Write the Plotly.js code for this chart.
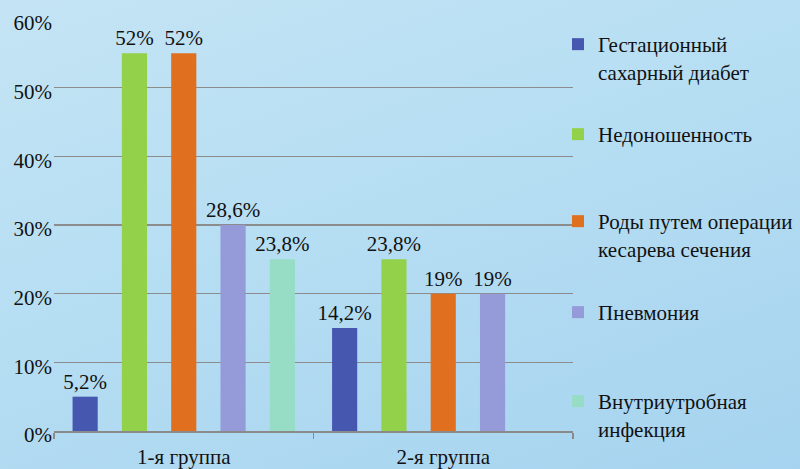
<!DOCTYPE html>
<html>
<head>
<meta charset="utf-8">
<script src="https://cdn.plot.ly/plotly-3.0.1.min.js"></script>
<style>
  html, body { margin: 0; padding: 0; }
  body { width: 800px; height: 469px; overflow: hidden;
    background: linear-gradient(160deg, #c4e4f4 0%, #b6def3 45%, #a6d3ef 100%); }
  #chart { width: 800px; height: 469px; }
</style>
</head>
<body>
<div id="chart"></div>
<script>
const groups = ['1-я группа', '2-я группа'];
const seriesNames = [
  'Гестационный<br>сахарный диабет',
  'Недоношенность',
  'Роды путем операции<br>кесарева сечения',
  'Пневмония',
  'Внутриутробная<br>инфекция'
];
const seriesColors = ['#4657b0', '#93d14a', '#e07020', '#959ad8', '#97dcc4'];
// bar heights as drawn (percent)
const gdm        = [5, 15];
const premature  = [55, 25];
const cesarean   = [55, 20];
const pneumonia  = [30, 20];
const infection  = [25, null];
// data labels as printed
const gdmLabels       = ['5,2%', '14,2%'];
const prematureLabels = ['52%', '23,8%'];
const cesareanLabels  = ['52%', '19%'];
const pneumoniaLabels = ['28,6%', '19%'];
const infectionLabels = ['23,8%', ''];

const values = [gdm, premature, cesarean, pneumonia, infection];
const labels = [gdmLabels, prematureLabels, cesareanLabels, pneumoniaLabels, infectionLabels];

const font = 'Liberation Serif, Times New Roman, serif';
const fs = 21;

const traces = values.map((vals, s) => ({
  type: 'bar',
  name: seriesNames[s],
  x: groups,
  y: vals,
  text: labels[s],
  textposition: 'outside',
  constraintext: 'none',
  textfont: {family: font, size: fs, color: '#111'},
  cliponaxis: false,
  marker: {color: seriesColors[s]},
  legend: s === 0 ? 'legend' : 'legend' + (s + 1),
  hoverinfo: 'none'
}));

const legendTops = [24, 114, 201, 292, 381];
const layout = {
  width: 800, height: 469,
  margin: {l: 54, r: 227, t: 19, b: 38, autoexpand: false},
  paper_bgcolor: 'rgba(0,0,0,0)',
  plot_bgcolor: 'rgba(0,0,0,0)',
  barmode: 'group',
  bargap: 0.05,
  bargroupgap: 0.49,
  showlegend: true,
  font: {family: font, size: fs, color: '#111'},
  xaxis: {
    type: 'category',
    showgrid: false,
    showline: true, linecolor: '#8a8a8a', linewidth: 1.5,
    ticks: 'outside', tickson: 'boundaries', ticklen: 6, tickcolor: '#8a8a8a', tickwidth: 1.5,
    tickfont: {family: font, size: fs, color: '#111'},
    ticklabelstandoff: 6,
    fixedrange: true
  },
  yaxis: {
    range: [0, 60], dtick: 10,
    ticksuffix: '%',
    showgrid: true, gridcolor: '#8c8c8c', gridwidth: 1.5,
    zeroline: false, showline: false,
    tickfont: {family: font, size: fs, color: '#111'},
    ticklabelstandoff: 1,
    ticklabelshift: 4,
    fixedrange: true
  }
};
legendTops.forEach((top, i) => {
  const key = i === 0 ? 'legend' : 'legend' + (i + 1);
  layout[key] = {
    font: {family: font, size: fs, color: '#111'},
    bgcolor: 'rgba(0,0,0,0)',
    xanchor: 'left', yanchor: 'top', valign: 'top',
    x: (558 - 54) / 519, tracegroupgap: 0,
    y: 1 - (top - 19) / 412
  };
});

Plotly.newPlot('chart', traces, layout, {displayModeBar: false, staticPlot: true});
</script>
</body>
</html>
